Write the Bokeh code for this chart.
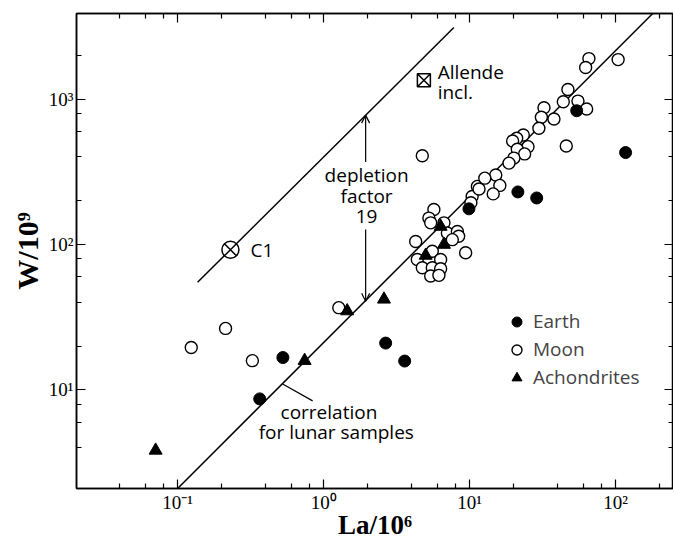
from bokeh.plotting import figure
from bokeh.models import (FixedTicker, CustomJSTickFormatter, LogAxis, Label, Arrow,
                          OpenHead, Legend, LegendItem, Range1d)
from bokeh.embed import file_html
from bokeh.resources import INLINE

# ---------------- data (La/10^6, W/10^9) ----------------
earth_la = [0.526, 0.365, 2.66, 3.59, 9.89, 21.4, 28.8, 54.1, 117]
earth_w = [16.7, 8.68, 21.0, 15.8, 176, 230, 209, 832, 429]

moon_la = [1.27, 0.213, 0.124, 0.325, 4.74,
           11.3, 10.4, 10.2, 5.69, 5.26, 5.41, 6.67, 7.04, 8.24, 8.41, 7.61,
           4.27, 9.39, 5.55, 6.33, 4.38, 4.74, 5.55, 6.33, 5.41, 6.16,
           65.6, 62.3, 104, 47.1, 43.8, 55.2, 63.3, 32.3, 31.0, 37.8, 29.8,
           23.3, 21.0, 19.7, 25.1, 21.2, 23.8, 20.1, 18.6, 45.9, 15.1, 12.7,
           16.1, 11.6, 14.5]
moon_w = [36.8, 26.5, 19.6, 15.9, 408,
          251, 214, 194, 174, 152, 141, 141, 120, 123, 114, 108,
          105, 87.7, 90, 78.9, 78.9, 69.2, 69.2, 68.2, 60.7, 61.4,
          1900, 1650, 1870, 1165, 959, 969, 855, 872, 750, 730, 630,
          566, 538, 515, 471, 452, 420, 393, 363, 476, 301, 286,
          255, 241, 223]

achon_la = [0.0707, 0.741, 1.45, 2.59, 6.33, 6.67, 5.0]
achon_w = [3.84, 15.9, 34.9, 42.0, 133, 100, 84.1]

c1_la = [0.23]
c1_w = [92]
allende_la = [4.86]
allende_w = [1349]

# reference lines (end points)
corr_la = [0.1, 300]
corr_w = [2.1, 6500]
chond_la = [0.137, 7.8]
chond_w = [55, 3110]

x_major = [0.1, 1, 10, 100]
x_minor = [0.04, 0.06, 0.08, 0.2, 0.4, 0.6, 0.8, 2, 4, 6, 8, 20, 40, 60, 80, 200]
y_major = [10, 100, 1000]
y_minor = [4, 6, 8, 20, 40, 60, 80, 200, 400, 600, 800, 2000]

SANS = "Open Sans"
SERIF = "Liberation Serif"

p = figure(x_axis_type="log", y_axis_type="log",
           x_range=Range1d(0.0203, 249), y_range=Range1d(2.10, 3880),
           frame_width=597, frame_height=475,
           min_border_left=76, min_border_right=0, min_border_top=13, min_border_bottom=51,
           output_backend="svg", toolbar_location=None,
           background_fill_color="white", border_fill_color="white")
p.grid.visible = False
p.outline_line_color = "black"
p.outline_line_width = 1.5

sup_js = """
const sup = {"-":"\\u207b","0":"\\u2070","1":"\\u00b9","2":"\\u00b2","3":"\\u00b3","4":"\\u2074",
             "5":"\\u2075","6":"\\u2076","7":"\\u2077","8":"\\u2078","9":"\\u2079"};
const e = Math.round(Math.log10(tick));
return "10" + String(e).split("").map(c => sup[c]).join("");
"""

for ax, maj, mnr in [(p.xaxis[0], x_major, x_minor), (p.yaxis[0], y_major, y_minor)]:
    ax.ticker = FixedTicker(ticks=maj, minor_ticks=mnr)
    ax.formatter = CustomJSTickFormatter(code=sup_js)
    ax.major_tick_in = 9
    ax.major_tick_out = 0
    ax.minor_tick_in = 5
    ax.minor_tick_out = 0
    ax.axis_line_width = 1.5
    ax.major_tick_line_width = 1.2
    ax.minor_tick_line_width = 1.2
    ax.major_label_text_font = SERIF
    ax.major_label_text_font_size = "19px"
    ax.major_label_text_color = "black"
    ax.axis_label_text_font = SERIF
    ax.axis_label_text_font_style = "bold"
    ax.axis_label_text_color = "black"

p.xaxis.axis_label = "La/10\u2076"
p.yaxis.axis_label = "W/10\u2079"
p.xaxis.axis_label_text_font_size = "27px"
p.yaxis.axis_label_text_font_size = "30px"
p.xaxis.major_label_standoff = 3
p.xaxis.axis_label_standoff = -6
p.yaxis.major_label_standoff = 3
p.yaxis.axis_label_standoff = 2

for loc, maj, mnr in [("above", x_major, x_minor), ("right", y_major, y_minor)]:
    ax = LogAxis(ticker=FixedTicker(ticks=maj, minor_ticks=mnr),
                 formatter=CustomJSTickFormatter(code="return ''"),
                 major_label_text_font_size="0px", major_label_standoff=0,
                 major_tick_in=9, major_tick_out=0, minor_tick_in=5, minor_tick_out=0,
                 axis_line_width=1.5, major_tick_line_width=1.2, minor_tick_line_width=1.2)
    p.add_layout(ax, loc)

# lines
p.line(corr_la, corr_w, line_color="black", line_width=1.5)
p.line(chond_la, chond_w, line_color="black", line_width=1.5)

# points
r_moon = p.scatter(moon_la, moon_w, marker="circle", size=12, fill_color="white",
                   line_color="black", line_width=1.4)
r_earth = p.scatter(earth_la, earth_w, marker="circle", size=12, fill_color="black",
                    line_color="black", line_width=1)
r_ach = p.scatter(achon_la, achon_w, marker="triangle", size=13, fill_color="black",
                  line_color="black", line_width=1)
p.scatter(c1_la, c1_w, marker="circle_x", size=17, fill_color="white",
          line_color="black", line_width=1.5)
p.scatter(allende_la, allende_w, marker="square_x", size=13, fill_color="white",
          line_color="black", line_width=1.5)

legend = Legend(items=[LegendItem(label="Earth", renderers=[r_earth]),
                       LegendItem(label="Moon", renderers=[r_moon]),
                       LegendItem(label="Achondrites", renderers=[r_ach])],
                location=(428, 98), padding=0, margin=0, spacing=2,
                glyph_width=25, glyph_height=25, label_standoff=4,
                label_text_font=SANS, label_text_font_size="19px",
                border_line_alpha=0, background_fill_alpha=0)
p.add_layout(legend)


def lab(x, y, text, align="left"):
    p.add_layout(Label(x=x, y=y, text=text, text_font=SANS, text_font_size="19px",
                       text_align=align, text_baseline="middle", text_color="black"))


lab(0.316, 91, "C1")
lab(6.04, 1530, "Allende")
lab(6.04, 1117, "incl.")
lab(1.97, 301, "depletion", "center")
lab(1.97, 217, "factor", "center")
lab(1.97, 156, "19", "center")
lab(0.507, 7.06, "correlation")
lab(0.359, 5.15, "for lunar samples")

arrow_la = 1.94
p.add_layout(Arrow(end=OpenHead(size=8, line_width=1.2), x_start=arrow_la, y_start=370,
                   x_end=arrow_la, y_end=776, line_width=1.2))
p.add_layout(Arrow(end=OpenHead(size=8, line_width=1.2), x_start=arrow_la, y_start=127,
                   x_end=arrow_la, y_end=40.7, line_width=1.2))
p.line([0.524, 0.841], [11.0, 8.41], line_color="black", line_width=1.2)

open("out.html", "w").write(file_html(p, INLINE))
